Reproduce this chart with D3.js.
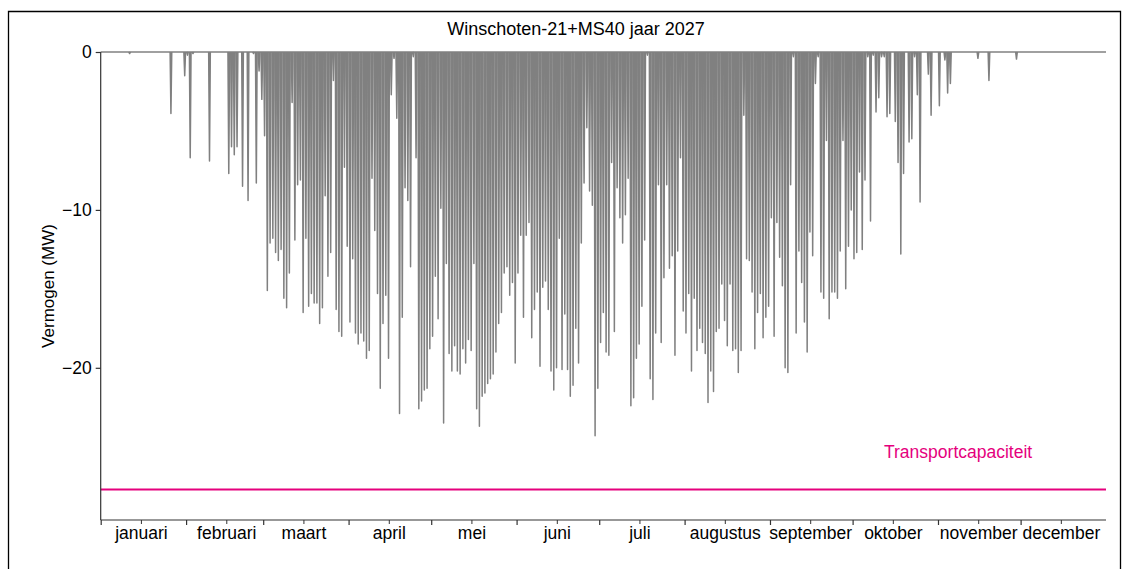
<!DOCTYPE html>
<html>
<head>
<meta charset="utf-8">
<script src="https://cdn.jsdelivr.net/npm/d3@7"></script>
<style>
  html, body { margin: 0; padding: 0; background: #fff; }
  svg { display: block; font-family: "Liberation Sans", Arial, sans-serif; }
</style>
</head>
<body>
<svg id="chart" width="1128" height="569"></svg>
<script>
// ---- data (daily peak power in MW, negative = feed-in) ----
const title = "Winschoten-21+MS40 jaar 2027";
const yLabel = "Vermogen (MW)";
const capacityLabel = "Transportcapaciteit";
const transportCapacity = -27.7;
const monthNames = ["januari","februari","maart","april","mei","juni","juli","augustus","september","oktober","november","december"];
const monthLengths = [31,28,31,30,31,30,31,31,30,31,30,31];
const yTicks = [-20, -10, 0];

const jan = [0,0,0,0,0,0,0,0,0,0,-0.1,0,0,0,0,0,0,0,0,0,0,0,0,0,0,-3.9,0,0,0,0,-1.5];
const feb = [-0.2,-6.7,-0.1,0,0,0,0,0,-6.9,0,0,0,0,0,0,-7.7,-6.0,-6.5,-6.0,0,-8.5,0,-9.4,0,-0.1,-8.3,-1.2,-3.0];
const mar = [-5.3,-15.1,-12.1,-11.8,-12.7,-13.2,-12.5,-15.6,-16.2,-14.0,-3.2,-11.9,-8.4,-8.1,-16.5,-11.8,-16.1,-15.3,-15.9,-15.9,-17.2,-16.2,-9.1,-14.2,-12.7,-1.8,-16.3,-17.7,-18.0,-7.3,-12.3];
const apr = [-17.1,-13.1,-17.8,-18.5,-17.8,-18.3,-19.4,-18.9,-8.0,-11.3,-15.3,-21.3,-17.2,-15.4,-19.4,-2.7,-0.4,-4.2,-22.9,-16.8,-8.6,-9.4,-13.6,-0.3,-6.7,-22.6,-22.1,-21.4,-21.3,-18.8];
const may = [-18.0,-14.2,-16.9,-9.9,-23.5,-13.4,-19.1,-20.2,-18.6,-20.2,-20.4,-18.8,-19.7,-18.2,-18.9,-13.4,-22.6,-23.7,-21.8,-21.6,-21.0,-20.7,-20.4,-19.0,-17.2,-16.5,-14.0,-13.6,-15.4,-14.6,-19.7];
const jun = [-14.0,-11.6,-16.8,-11.6,-10.8,-18.1,-16.3,-15.2,-19.9,-14.9,-14.5,-16.3,-20.2,-21.4,-20.0,-11.8,-20.1,-16.6,-20.1,-21.8,-21.1,-17.5,-19.7,-12.1,-8.3,-4.8,-8.8,-9.7,-24.3,-21.3];
const jul = [-18.4,-16.5,-19.0,-19.2,-7.0,-17.7,-8.6,-10.5,-12.1,-10.3,-8.0,-22.4,-21.9,-19.4,-18.5,-16.1,-11.9,-0.2,-20.7,-22.0,-17.8,-8.4,-18.4,-14.3,-8.4,-13.7,-12.9,-19.2,-12.6,-6.7,-16.4];
const aug = [-17.8,-15.3,-20.2,-15.6,-18.9,-17.5,-18.4,-19.1,-22.2,-20.2,-21.5,-17.7,-17.5,-14.7,-17.0,-18.6,-14.7,-18.9,-18.8,-20.3,-18.9,-4.0,-13.1,-13.2,-15.2,-18.8,-16.5,-15.3,-18.1,-16.8,-16.1];
const sep = [-10.5,-18.0,-10.8,-13.0,-14.8,-20.0,-20.3,-8.4,-0.3,-17.8,-12.6,-14.6,-17.1,-19.0,-11.4,-12.9,-2.0,-0.3,-15.2,-15.6,-5.6,-16.9,-15.2,-15.2,-15.6,-12.6,-5.6,-15.0,-12.3,-10.0];
const oct = [-13.1,-12.7,-7.6,-12.5,-8.1,-0.3,-10.7,-0.2,-3.8,-2.9,-0.3,-0.3,-4.1,-3.9,0,-4.4,-7.0,-12.8,-7.7,0,-5.7,-5.5,-0.3,-2.7,-9.5,0,0,-1.4,-4.0,0,0];
const nov = [-3.4,0,-0.5,-2.6,-2.0,0,0,0,0,0,0,0,0,0,-0.4,0,0,0,-1.8,0,0,0,0,0,0,0,0,0,-0.45,0];
const dec = [0,0,0,0,0,0,0,0,0,0,0,0,0,0,0,0,0,0,0,0,0,0,0,0,0,0,0,0,0,0,0];

const dailyPeak = [].concat(jan, feb, mar, apr, may, jun, jul, aug, sep, oct, nov, dec);

// ---- layout ----
const svg = d3.select("#chart");
const L = 100.7, R = 1106, T = 52, B = 520;
const nDays = d3.sum(monthLengths);
const x = d3.scaleLinear().domain([0, nDays]).range([L, R]);
const y = d3.scaleLinear().domain([transportCapacity * 1.07, 0]).range([B, T]);

const monthStarts = d3.cumsum([0].concat(monthLengths.slice(0, -1)));
const monthMid = monthStarts.map(s => s + 14.6);

// figure frame
svg.append("path")
  .attr("d", "M8.5,575 L8.5,11.5 L1120.5,11.5 L1120.5,575")
  .attr("fill", "none").attr("stroke", "#000").attr("stroke-width", 1.3);

// zero baseline (data at 0)
svg.append("line")
  .attr("x1", x(0)).attr("x2", x(nDays))
  .attr("y1", y(0)).attr("y2", y(0))
  .attr("stroke", "#808080").attr("stroke-width", 1.5);

// daily spikes
const halfW = 0.3; // half-width of a day's spike in days (style)
svg.append("g")
  .selectAll("path")
  .data(dailyPeak.map((v, i) => ({ i, v })).filter(d => d.v < 0))
  .join("path")
  .attr("d", d => {
    const xc = x(d.i + 0.5);
    const w = x(halfW) - x(0);
    return `M${xc - w},${y(0)} L${xc},${y(d.v)} L${xc + w},${y(0)}`;
  })
  .attr("fill", "#808080")
  .attr("stroke", "#808080")
  .attr("stroke-width", 1.5)
  .attr("stroke-linejoin", "round");

// transport capacity
svg.append("line")
  .attr("x1", x(0)).attr("x2", x(nDays))
  .attr("y1", y(transportCapacity)).attr("y2", y(transportCapacity))
  .attr("stroke", "#e5007d").attr("stroke-width", 2);
svg.append("text")
  .attr("x", 884).attr("y", 458)
  .attr("fill", "#e5007d").attr("font-size", 17.5)
  .text(capacityLabel);

// y axis
const yAxis = d3.axisLeft(y).tickValues(yTicks).tickSize(5).tickPadding(4)
  .tickFormat(d => d === 0 ? "0" : "\u2212" + Math.abs(d));
const gy = svg.append("g").attr("transform", `translate(${L},0)`).call(yAxis);
gy.select(".domain").attr("d", `M0,${T}V${B}`).attr("stroke", "#333").attr("stroke-width", 1.2);
gy.selectAll(".tick line").attr("stroke", "#333").attr("stroke-width", 1.2);
gy.selectAll(".tick text").attr("font-size", 17.5).attr("fill", "#000")
  .attr("font-family", "Liberation Sans, Arial, sans-serif");

// x axis: month boundaries (unlabelled) + mid-month labels
const xMajor = d3.axisBottom(x).tickValues(monthStarts).tickSize(5).tickFormat("");
const gx = svg.append("g").attr("transform", `translate(0,${B})`).call(xMajor);
gx.select(".domain").attr("d", `M${L},0H${R}`).attr("stroke", "#333").attr("stroke-width", 1.2);
gx.selectAll(".tick line").attr("stroke", "#333").attr("stroke-width", 1.2);

const xMinor = d3.axisBottom(x).tickValues(monthMid).tickSize(4).tickPadding(3)
  .tickFormat((d, i) => monthNames[i]);
const gx2 = svg.append("g").attr("transform", `translate(0,${B})`).call(xMinor);
gx2.select(".domain").remove();
gx2.selectAll(".tick line").attr("stroke", "#333").attr("stroke-width", 1);
gx2.selectAll(".tick text").attr("font-size", 17.5).attr("fill", "#000")
  .attr("font-family", "Liberation Sans, Arial, sans-serif");

// y label
svg.append("text")
  .attr("transform", `translate(54,${(T + B) / 2}) rotate(-90)`)
  .attr("text-anchor", "middle")
  .attr("font-size", 17)
  .text(yLabel);

// title
svg.append("text")
  .attr("x", 576).attr("y", 35)
  .attr("text-anchor", "middle")
  .attr("font-size", 18)
  .text(title);
</script>
</body>
</html>
